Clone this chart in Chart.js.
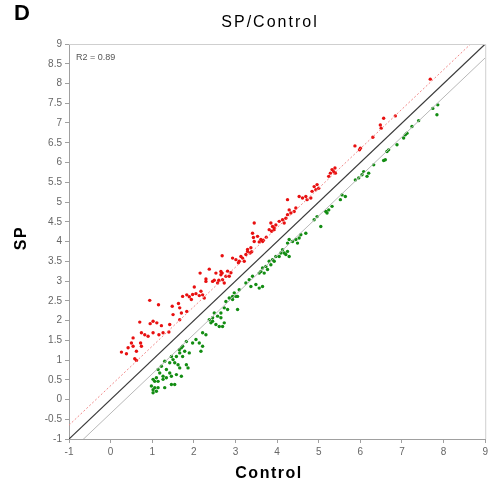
<!DOCTYPE html>
<html>
<head>
<meta charset="utf-8">
<script src="https://cdn.jsdelivr.net/npm/chart.js@4.4.1/dist/chart.umd.min.js"></script>
<style>
html,body{margin:0;padding:0;background:#fff;}
#wrap{width:491px;height:486px;}
</style>
</head>
<body>
<div id="wrap"><canvas id="c" width="491" height="486"></canvas></div>
<script>
// ---- data ----
const redX = [0.26,0.38,0.42,0.50,0.54,0.54,0.58,0.62,0.62,0.70,0.72,0.74,0.74,0.82,0.90,0.94,0.95,1.02,1.02,1.11,1.15,1.16,1.22,1.26,1.40,1.42,1.48,1.50,1.63,1.66,1.66,1.70,1.73,1.83,1.83,1.89,1.94,1.97,2.01,2.05,2.13,2.17,2.15,2.21,2.25,2.29,2.29,2.37,2.45,2.49,2.53,2.57,2.60,2.65,2.65,2.68,2.68,2.69,2.73,2.77,2.81,2.85,2.89,2.93,3.01,3.07,3.09,3.13,3.17,3.21,3.25,3.29,3.29,3.35,3.37,3.39,3.41,3.43,3.45,3.45,3.53,3.57,3.61,3.65,3.67,3.74,3.81,3.85,3.87,3.89,3.93,3.93,3.97,4.05,4.13,4.17,4.21,4.25,4.25,4.29,4.33,4.41,4.45,4.53,4.61,4.69,4.72,4.81,4.84,4.89,4.93,4.96,5.00,5.24,5.28,5.32,5.36,5.39,5.40,5.87,5.98,6.00,6.30,6.48,6.50,6.56,6.84,7.68];
const redY = [1.20,1.16,1.31,1.43,1.56,1.35,1.03,0.99,1.22,1.96,1.43,1.35,1.69,1.64,1.60,2.51,1.92,1.98,1.69,1.94,2.40,1.64,1.87,1.69,1.71,1.90,2.36,2.15,2.43,2.32,2.02,2.19,2.61,2.23,2.65,2.60,2.53,2.66,2.85,2.68,2.63,2.74,3.20,2.65,2.57,2.99,3.05,3.30,2.99,3.02,3.20,2.95,3.02,3.16,3.24,3.64,3.20,3.03,2.95,3.12,3.25,3.12,3.21,3.58,3.54,3.46,3.50,3.62,3.58,3.50,3.67,3.80,3.75,3.71,3.84,3.74,4.21,4.10,4.00,4.47,4.13,3.99,4.05,4.00,4.03,4.11,4.30,4.47,4.26,4.38,4.34,4.30,4.42,4.51,4.55,4.47,4.59,4.68,5.06,4.80,4.72,4.76,4.85,5.14,5.10,5.14,5.06,5.10,5.27,5.39,5.31,5.44,5.35,5.65,5.73,5.82,5.77,5.86,5.73,6.42,6.32,6.36,6.64,6.95,6.87,7.12,7.18,8.11];

const greenX = [0.98,1.02,1.06,1.14,1.10,1.02,1.30,1.46,1.54,1.02,1.06,1.10,1.14,1.26,1.34,1.46,1.58,1.70,1.26,1.18,1.42,1.14,1.34,1.22,1.30,1.42,1.54,1.62,1.66,1.50,1.46,1.58,1.66,1.78,1.70,1.82,1.86,1.73,1.89,1.65,1.73,1.82,1.97,2.05,2.13,2.21,2.17,2.21,2.29,2.37,2.45,2.49,2.53,2.57,2.61,2.65,2.73,2.41,2.45,2.69,2.65,2.73,2.81,3.05,2.77,2.85,2.93,2.97,3.01,2.93,3.09,3.05,3.25,3.33,3.41,3.37,3.49,3.57,3.65,3.57,3.61,3.69,3.65,3.73,3.77,3.81,3.85,3.89,3.93,3.97,4.05,4.09,4.13,4.17,4.21,4.25,4.29,4.25,4.29,4.37,4.45,4.49,4.53,4.57,4.69,4.89,4.96,5.05,5.17,5.20,5.24,5.32,5.52,5.56,5.64,5.88,5.96,6.04,6.08,6.16,6.20,6.32,6.56,6.60,6.64,6.68,6.88,7.04,7.08,7.12,7.24,7.40,7.74,7.86,7.84];
const greenY = [0.34,0.25,0.30,0.30,0.21,0.17,0.30,0.38,0.38,0.51,0.46,0.55,0.46,0.51,0.55,0.59,0.63,0.59,0.59,0.67,0.67,0.76,0.76,0.84,0.97,0.93,0.93,0.88,0.80,1.01,1.09,1.09,1.18,1.22,1.31,0.88,0.80,1.09,1.18,1.26,1.35,1.47,1.43,1.52,1.43,1.35,1.22,1.69,1.64,2.02,1.98,2.19,1.90,2.11,1.85,2.07,1.94,1.94,2.07,1.85,2.19,2.32,2.28,2.28,2.48,2.57,2.53,2.70,2.61,2.61,2.78,2.61,2.95,3.03,3.12,2.86,2.91,2.82,2.86,3.20,3.24,3.20,3.33,3.37,3.29,3.50,3.41,3.54,3.50,3.62,3.62,3.71,3.79,3.71,3.67,3.75,3.62,3.96,4.05,4.00,4.05,3.96,4.09,4.17,4.21,4.55,4.63,4.38,4.76,4.72,4.80,4.89,5.06,5.18,5.14,5.56,5.61,5.69,5.77,5.65,5.73,5.94,6.05,6.07,6.28,6.32,6.45,6.62,6.70,6.74,6.91,7.06,7.37,7.46,7.21];

const lineX = [-1, 9];
const foldOffset = 0.35;   // offset of the upper / lower reference lines
const xTicks = ['-1','0','1','2','3','4','5','6','7','8','9'];
const yTicks = ['-1','-0.5','0','0.5','1','1.5','2','2.5','3','3.5','4','4.5','5','5.5','6','6.5','7','7.5','8','8.5','9'];
const r2Text = 'R2 = 0.89';

const toPts = (xs, ys) => xs.map((x, i) => ({x: x, y: ys[i]}));
const linePts = (off) => lineX.map(x => ({x: x, y: x + off}));

const FONT = '"Liberation Sans", Arial, Helvetica, sans-serif';

const decor = {
  id: 'decor',
  afterDraw(chart) {
    const ctx = chart.ctx;
    const a = chart.chartArea;
    ctx.save();
    // light frame top/right
    ctx.strokeStyle = '#cfcfcf';
    ctx.lineWidth = 1;
    ctx.beginPath();
    ctx.moveTo(a.left, a.top + 0.5);
    ctx.lineTo(a.right + 0.5, a.top + 0.5);
    ctx.lineTo(a.right + 0.5, a.bottom);
    ctx.stroke();

    // panel letter
    ctx.fillStyle = '#000';
    ctx.textBaseline = 'alphabetic';
    ctx.textAlign = 'left';
    ctx.font = 'bold 22px ' + FONT;
    ctx.fillText('D', 14, 20);

    // title
    ctx.textAlign = 'center';
    ctx.font = '16px ' + FONT;
    try { ctx.letterSpacing = '2px'; } catch (e) {}
    ctx.fillText('SP/Control', 270, 27);

    // x title
    ctx.font = 'bold 16px ' + FONT;
    try { ctx.letterSpacing = '1.5px'; } catch (e) {}
    ctx.fillText('Control', 269, 478);

    // y title
    ctx.save();
    ctx.translate(26, 238);
    ctx.rotate(-Math.PI / 2);
    ctx.fillText('SP', 0, 0);
    ctx.restore();

    // annotation
    try { ctx.letterSpacing = '0px'; } catch (e) {}
    ctx.textAlign = 'left';
    ctx.textBaseline = 'middle';
    ctx.font = '9px ' + FONT;
    ctx.fillStyle = '#555';
    ctx.fillText(r2Text, a.left + 7, a.top + 14);
    ctx.restore();
  }
};

new Chart(document.getElementById('c'), {
  type: 'scatter',
  data: {
    datasets: [
      {label: 'upper', data: linePts(foldOffset), showLine: true, pointRadius: 0,
       borderColor: '#f08a8a', borderWidth: 1, borderDash: [2, 2], fill: false},
      {label: 'lower', data: linePts(-foldOffset), showLine: true, pointRadius: 0,
       borderColor: '#b8b8b8', borderWidth: 1, fill: false},
      {label: 'identity', data: linePts(0), showLine: true, pointRadius: 0,
       borderColor: '#3a3a3a', borderWidth: 1.2, fill: false},
      {label: 'down', data: toPts(greenX, greenY), pointRadius: 1.7, pointBorderWidth: 0,
       backgroundColor: '#138d13', borderColor: '#138d13'},
      {label: 'up', data: toPts(redX, redY), pointRadius: 1.7, pointBorderWidth: 0,
       backgroundColor: '#e81010', borderColor: '#e81010'}
    ]
  },
  options: {
    responsive: false,
    animation: false,
    layout: {padding: {top: 44, right: 4, left: 0, bottom: 0}},
    plugins: {legend: {display: false}, tooltip: {enabled: false}, title: {display: false}},
    scales: {
      x: {
        type: 'linear', min: -1, max: 9,
        afterFit(s) { s.height = 47; },
        border: {display: true, color: '#a0a0a0', width: 1},
        grid: {display: true, drawOnChartArea: false, drawTicks: true, tickLength: 4, color: '#a0a0a0'},
        ticks: {stepSize: 1, autoSkip: false, maxRotation: 0, padding: 3, color: '#666',
                font: {family: FONT, size: 10},
                callback: (v, i) => xTicks[i]}
      },
      y: {
        type: 'linear', min: -1, max: 9,
        afterFit(s) { s.width = 69; },
        border: {display: true, color: '#a0a0a0', width: 1},
        grid: {display: true, drawOnChartArea: false, drawTicks: true, tickLength: 4, color: '#a0a0a0'},
        ticks: {stepSize: 0.5, autoSkip: false, padding: 3, color: '#666',
                font: {family: FONT, size: 10},
                callback: (v, i) => yTicks[i]}
      }
    }
  },
  plugins: [decor]
});
</script>
</body>
</html>
